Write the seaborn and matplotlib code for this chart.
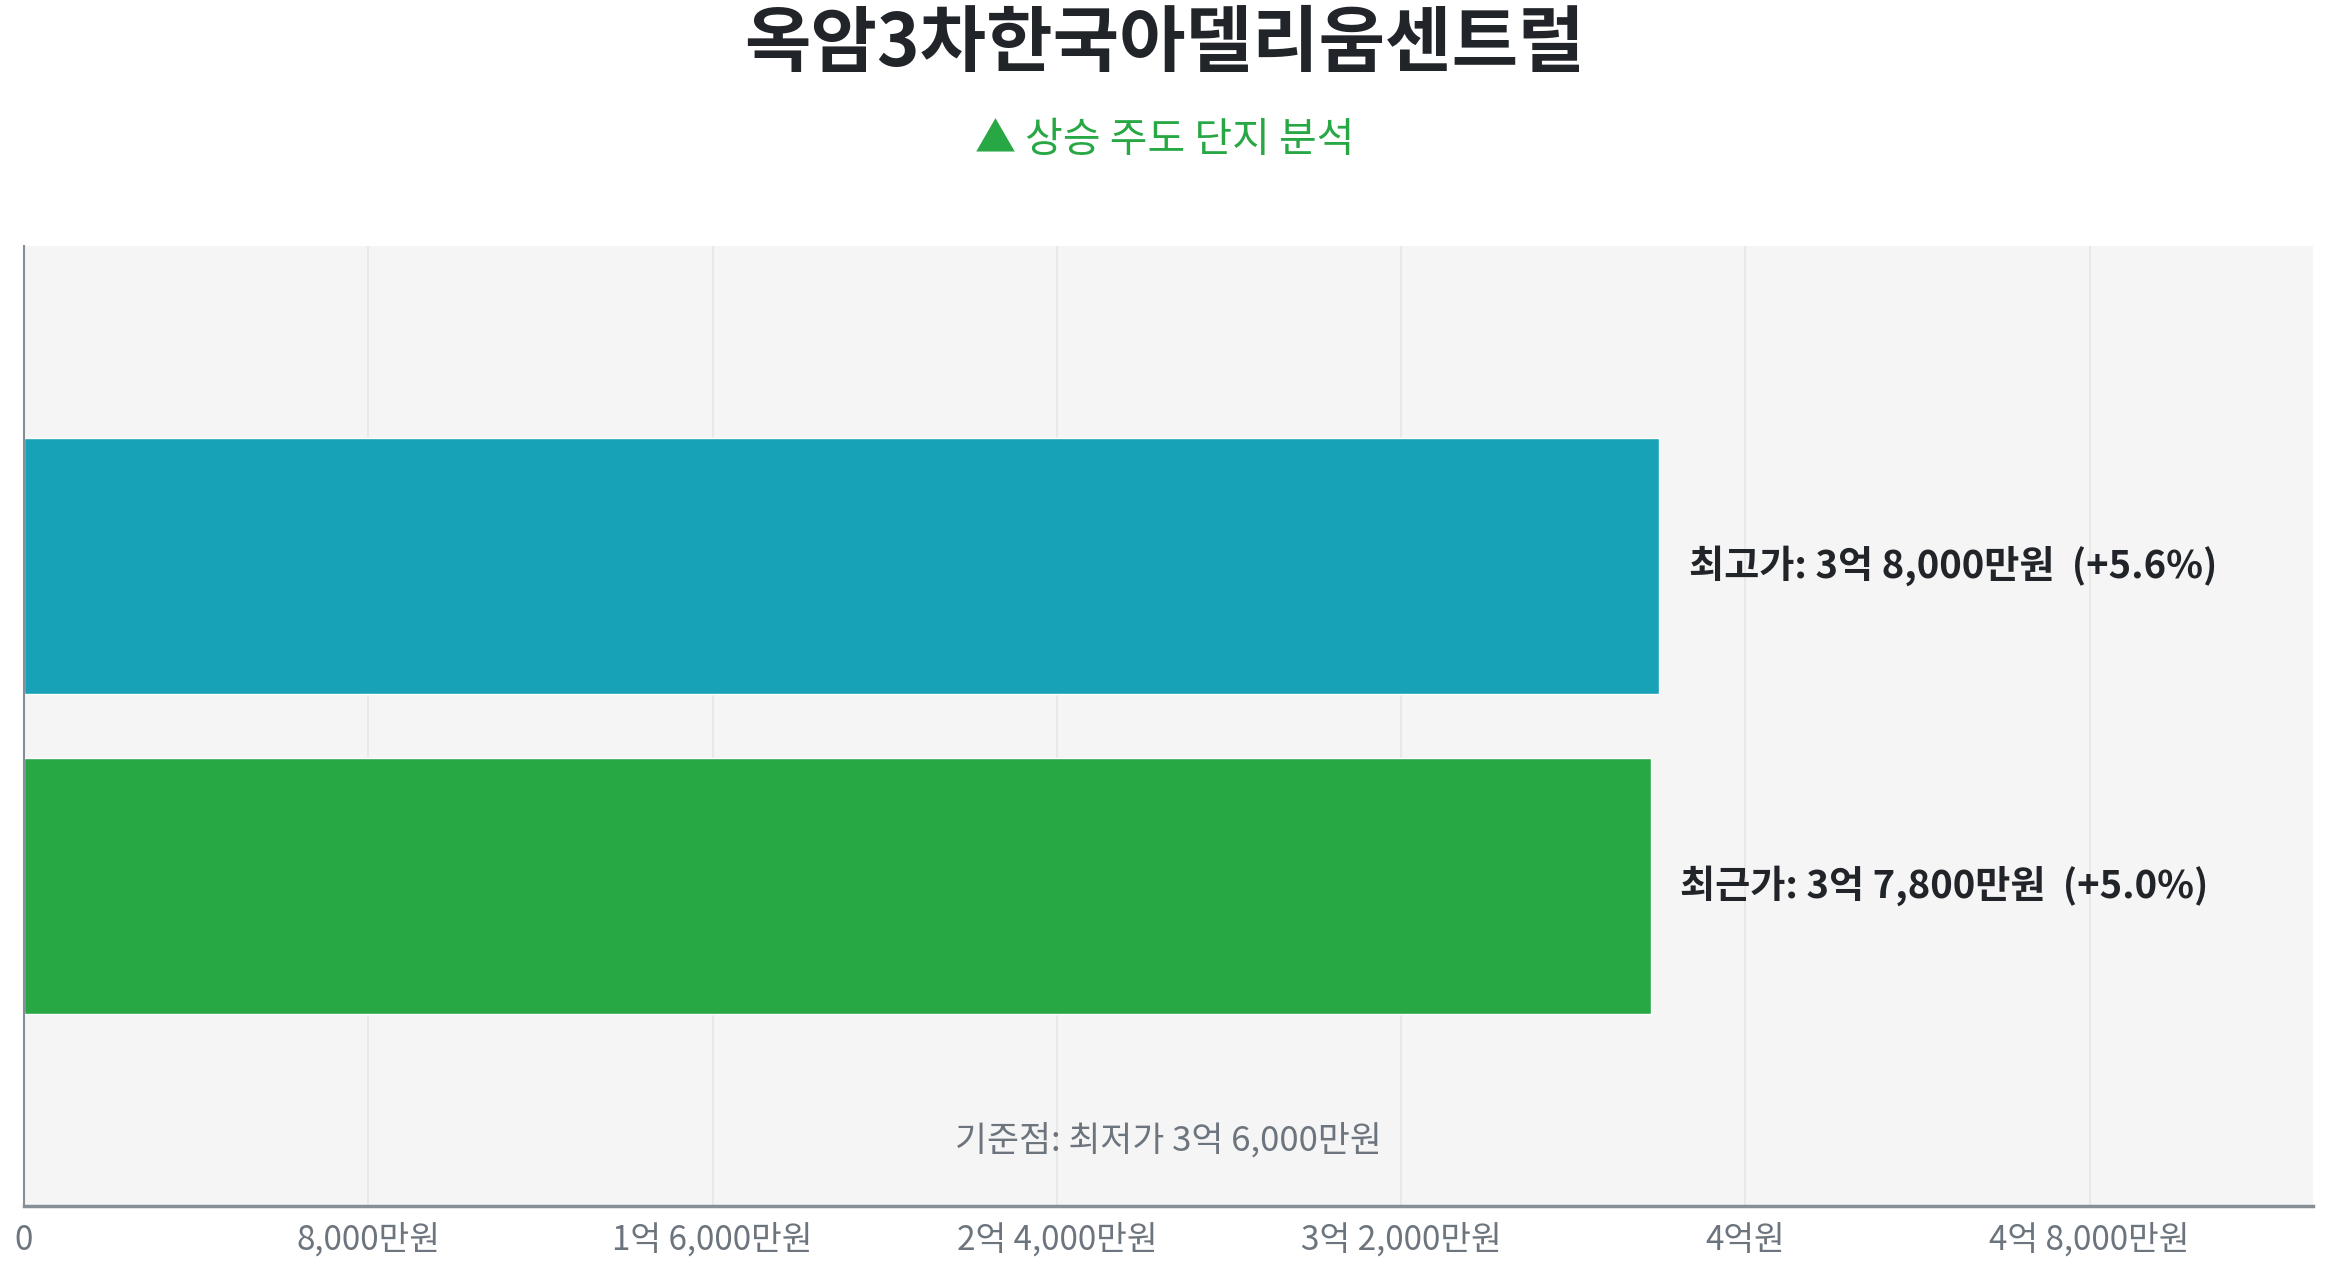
import numpy as np
import pandas as pd
import matplotlib
matplotlib.use('Agg')
import matplotlib.pyplot as plt
import matplotlib.ticker as mticker
import seaborn as sns

sns.set_style('white')
plt.rcParams['font.family'] = ['Noto Sans CJK KR', 'DejaVu Sans']

# Data (values in 만원)
categories = ['최고가', '최근가']
prices = [38000, 37800]
changes = [5.6, 5.0]
bar_colors = ['#17a2b8', '#28a745']
base_price = 36000
title = '옥암3차한국아델리움센트럴'
subtitle = '▲ 상승 주도 단지 분석'


def fmt_won(v):
    v = int(round(v))
    if v == 0:
        return '0'
    eok, man = divmod(v, 10000)
    if eok and man:
        return f'{eok}억 {man:,}만원'
    if eok:
        return f'{eok}억원'
    return f'{man:,}만원'


df = pd.DataFrame({'label': categories, 'price': prices})

fig = plt.figure(figsize=(23.29, 12.68), dpi=100)
ax = fig.add_axes([0.0103, 0.0489, 0.983, 0.7571])
ax.set_facecolor('#f5f5f5')

sns.barplot(data=df, x='price', y='label', hue='label', palette=bar_colors,
            orient='h', width=0.8, saturation=1, legend=False, ax=ax)

xmax = max(prices) * 1.4
ax.set_xlim(0, xmax)
ax.set_ylim(2.0, -1.0)
ax.xaxis.set_major_locator(mticker.MultipleLocator(8000))
ax.xaxis.set_major_formatter(mticker.FuncFormatter(lambda v, p: fmt_won(v)))
ax.grid(axis='x', color='#e6e6e6', linewidth=1.2)
ax.set_axisbelow(True)
ax.set_yticks([])
ax.set_xlabel('')
ax.set_ylabel('')

for s in ['top', 'right']:
    ax.spines[s].set_visible(False)
ax.spines['left'].set_color('#868e96')
ax.spines['left'].set_linewidth(1.5)
ax.spines['bottom'].set_color('#868e96')
ax.spines['bottom'].set_linewidth(2.5)
ax.tick_params(axis='x', colors='#868e96', labelcolor='#6c757d',
               labelsize=24, length=7, width=1.2, pad=5)

for i, (lab, p, c) in enumerate(zip(categories, prices, changes)):
    ax.text(p + xmax * 0.013, i, f'{lab}: {fmt_won(p)}  (+{c:.1f}%)',
            va='center', ha='left', fontsize=27.5, fontweight='bold',
            color='#212529')

ax.text(0.5, 0.068, f'기준점: 최저가 {fmt_won(base_price)}', transform=ax.transAxes,
        ha='center', va='center', fontsize=25, color='#6c757d')

fig.text(0.5, 0.965, title, ha='center', va='center', fontsize=52,
         fontweight='bold', color='#212529')
fig.text(0.5, 0.889, subtitle, ha='center', va='center', fontsize=29.5,
         color='#28a745')

fig.savefig('out.png', dpi=100)
